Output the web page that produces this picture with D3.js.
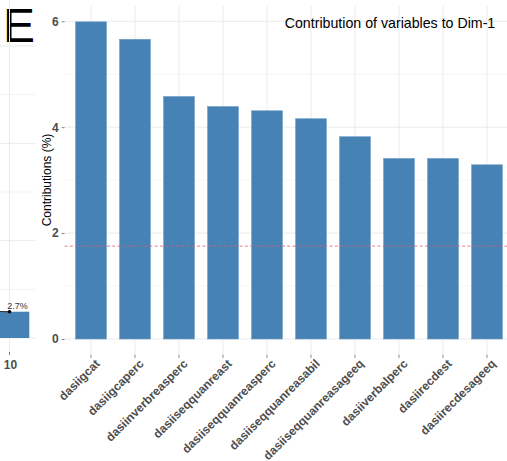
<!DOCTYPE html>
<html>
<head>
<meta charset="utf-8">
<script src="https://cdn.jsdelivr.net/npm/d3@7"></script>
<style>
  html, body { margin: 0; padding: 0; background: #fff; }
  svg { display: block; font-family: "Liberation Sans", Arial, sans-serif; }
</style>
</head>
<body>
<svg id="chart" width="507" height="461"></svg>
<script>
// Variables ranked by their contribution to the first dimension
const variables = [
  "dasiigcat", "dasiigcaperc", "dasiinverbreasperc", "dasiiseqquanreast",
  "dasiiseqquanreasperc", "dasiiseqquanreasabil", "dasiiseqquanreasageeq",
  "dasiiverbalperc", "dasiirecdest", "dasiirecdesageeq"
];
const contributions = [5.99, 5.66, 4.58, 4.39, 4.31, 4.16, 3.82, 3.41, 3.41, 3.29];
const expectedContribution = 1.754; // uniform contribution reference line
const yTicks = [0, 2, 4, 6];
const yMinor = [1, 3, 5];

// Tail of the neighbouring scree panel (explained variance per dimension)
const screeDims = ["9", "10"];
const screeVariance = [2.8, 2.7];
const screeGrid = [0, 5, 10, 15, 20, 25, 30];

const svg = d3.select("#chart");

// ---------- panel label ----------
svg.append("text")
  .attr("x", 3).attr("y", 42)
  .attr("font-size", 48)
  .attr("fill", "#000")
  .text("E");

// ---------- scree panel (partial, only its right edge is in view) ----------
const scree = svg.append("g");
const sxStep = 44;
const sx = d3.scalePoint().domain(screeDims)
  .range([9.5 - (screeDims.length - 1) * sxStep, 9.5]);
const sy = d3.scaleLinear().domain([0, 30]).range([338, 46]);
const sPanelRight = 9.5 + 0.6 * sxStep;
const inView = d => sx(d) >= 0;

scree.selectAll("line.sgrid").data(screeGrid).join("line")
  .attr("x1", 0).attr("x2", sPanelRight)
  .attr("y1", d => sy(d)).attr("y2", d => sy(d))
  .attr("stroke", "#ebebeb").attr("stroke-width", d => d % 10 === 0 ? 1 : 0.6);
scree.selectAll("line.svgrid").data(screeDims.filter(inView)).join("line")
  .attr("x1", d => sx(d)).attr("x2", d => sx(d))
  .attr("y1", 0).attr("y2", 352)
  .attr("stroke", "#ebebeb").attr("stroke-width", 1);

const sBW = sxStep * 0.9;
scree.selectAll("rect").data(screeDims).join("rect")
  .attr("x", d => sx(d) - sBW / 2)
  .attr("width", sBW)
  .attr("y", (d, i) => sy(screeVariance[i]))
  .attr("height", (d, i) => sy(0) - sy(screeVariance[i]))
  .attr("fill", "#4682B4");

const sLine = d3.line().x(d => sx(d[0])).y(d => sy(d[1]));
scree.append("path")
  .datum(screeDims.map((d, i) => [d, screeVariance[i]]))
  .attr("d", sLine).attr("fill", "none").attr("stroke", "#000").attr("stroke-width", 0.8);
scree.selectAll("circle").data(screeDims).join("circle")
  .attr("cx", d => sx(d)).attr("cy", (d, i) => sy(screeVariance[i]))
  .attr("r", 1.8).attr("fill", "#000");

const visibleScree = screeDims.map((d, i) => ({ d, v: screeVariance[i] })).filter(o => inView(o.d));
scree.selectAll("text.slab").data(visibleScree).join("text")
  .attr("class", "slab")
  .attr("x", o => sx(o.d) + 8).attr("y", o => sy(o.v) - 3)
  .attr("text-anchor", "middle").attr("font-size", 9).attr("fill", "#333")
  .text(o => o.v.toFixed(1) + "%");
scree.selectAll("line.stick").data(visibleScree).join("line")
  .attr("x1", o => sx(o.d)).attr("x2", o => sx(o.d))
  .attr("y1", 352).attr("y2", 355)
  .attr("stroke", "#333").attr("stroke-width", 0.6);
scree.selectAll("text.stick").data(visibleScree).join("text")
  .attr("class", "stick")
  .attr("x", o => sx(o.d) + 1).attr("y", 369)
  .attr("text-anchor", "middle").attr("font-size", 12).attr("font-weight", "bold")
  .attr("fill", "#4d4d4d")
  .text(o => o.d);

// ---------- contribution panel ----------
const step = 44;
const firstCenter = 91;
const panelLeft = firstCenter - 0.6 * step;
const panelRight = panelLeft + (variables.length + 0.2) * step;
const x = d3.scaleBand().domain(variables)
  .range([panelLeft + 0.1 * step, panelRight - 0.1 * step])
  .paddingInner(0.3).paddingOuter(0.15);
const y = d3.scaleLinear().domain([0, 6]).range([339, 21.3]);
const panelTop = y(6.29), panelBottom = y(-0.3);

const g = svg.append("g");

// grid
g.selectAll("line.minor").data(yMinor).join("line")
  .attr("x1", panelLeft).attr("x2", panelRight)
  .attr("y1", d => y(d)).attr("y2", d => y(d))
  .attr("stroke", "#f2f2f2").attr("stroke-width", 0.8);
g.selectAll("line.major").data(yTicks).join("line")
  .attr("x1", panelLeft).attr("x2", panelRight)
  .attr("y1", d => y(d)).attr("y2", d => y(d))
  .attr("stroke", "#ebebeb").attr("stroke-width", 1);
g.selectAll("line.vgrid").data(variables).join("line")
  .attr("x1", d => x(d) + x.bandwidth() / 2).attr("x2", d => x(d) + x.bandwidth() / 2)
  .attr("y1", panelTop).attr("y2", panelBottom)
  .attr("stroke", "#ebebeb").attr("stroke-width", 1);

// bars
g.selectAll("rect").data(variables).join("rect")
  .attr("x", d => x(d))
  .attr("width", x.bandwidth())
  .attr("y", (d, i) => y(contributions[i]))
  .attr("height", (d, i) => y(0) - y(contributions[i]))
  .attr("fill", "#4682B4")
  .attr("stroke", "#6b9cc6").attr("stroke-width", 0.6);

// reference line
g.append("line")
  .attr("x1", panelLeft).attr("x2", panelRight)
  .attr("y1", y(expectedContribution)).attr("y2", y(expectedContribution))
  .attr("stroke", "#d9606a").attr("stroke-width", 0.8)
  .attr("stroke-dasharray", "3,2.3");

// y axis
const yAxis = d3.axisLeft(y).tickValues(yTicks).tickFormat(d3.format("d")).tickSize(3).tickPadding(3);
const ya = g.append("g").attr("transform", `translate(${panelLeft},0)`).call(yAxis);
ya.select(".domain").remove();
ya.selectAll(".tick line").attr("stroke", "#333").attr("stroke-width", 0.6);
ya.selectAll(".tick text")
  .attr("font-size", 12).attr("font-weight", "bold").attr("fill", "#4d4d4d")
  .attr("font-family", "Liberation Sans, Arial, sans-serif");

// x axis
const xAxis = d3.axisBottom(x).tickSize(3).tickPadding(2);
const xa = g.append("g").attr("transform", `translate(0,${panelBottom})`).call(xAxis);
xa.select(".domain").remove();
xa.selectAll(".tick line").attr("stroke", "#333").attr("stroke-width", 0.6);
xa.selectAll(".tick text")
  .attr("font-size", 12).attr("font-weight", "bold").attr("fill", "#4d4d4d")
  .attr("font-family", "Liberation Sans, Arial, sans-serif")
  .attr("text-anchor", "end")
  .attr("dy", null)
  .attr("transform", "translate(6,6) rotate(-45)");

// axis title
svg.append("text")
  .attr("transform", `translate(51,180) rotate(-90)`)
  .attr("text-anchor", "middle")
  .attr("font-size", 12).attr("fill", "#000")
  .text("Contributions (%)");

// plot title
svg.append("text")
  .attr("x", 390).attr("y", 28)
  .attr("text-anchor", "middle")
  .attr("font-size", 14.2).attr("fill", "#000")
  .text("Contribution of variables to Dim-1");
</script>
</body>
</html>
